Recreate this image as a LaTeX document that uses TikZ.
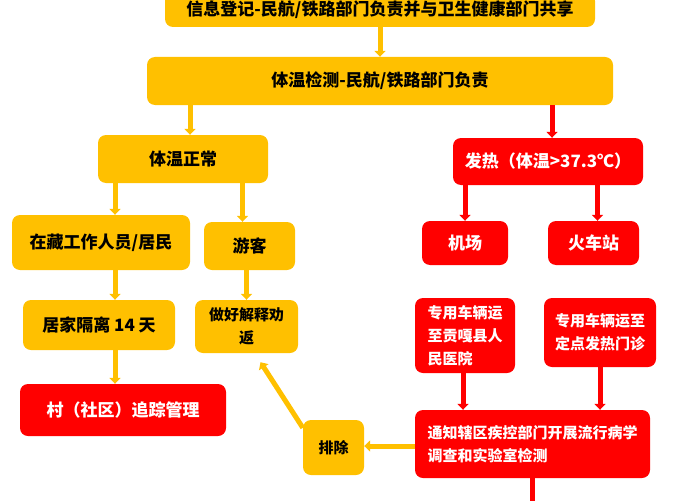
\documentclass[tikz,border=0pt]{standalone}
\usepackage{fontspec}
\setmainfont{Noto Sans CJK SC}
\usepackage{tikz}
\usetikzlibrary{shapes, arrows.meta}
\definecolor{gold}{HTML}{FFC000}
\definecolor{alarm}{HTML}{FF0000}

\begin{document}
\begin{tikzpicture}[x=1pt, y=-1pt,
	box/.style={rounded corners=8pt, inner sep=2pt, font=\fontsize{17}{23}\selectfont\bfseries},
	small/.style={font=\fontsize{15}{23}\selectfont\bfseries},
	goldbox/.style={box, fill=gold, text=black},
	redbox/.style={box, fill=alarm, text=white},
	goldarrow/.style={gold, line width=5pt, -{Triangle[width=11pt,length=6pt]}},
	redarrow/.style={alarm, line width=5pt, -{Triangle[width=11pt,length=6pt]}}]
	\useasboundingbox (0,0) rectangle (700,500);
	\node[goldbox, minimum width=430pt, minimum height=34pt] (reg) at (380,10) {信息登记-民航/铁路部门负责并与卫生健康部门共享};
	\node[goldbox, minimum width=466pt, minimum height=48pt] (detect) at (380,81) {体温检测-民航/铁路部门负责};
	\node[goldbox, minimum width=170pt, minimum height=48pt] (normal) at (183,159) {体温正常};
	\node[redbox, minimum width=190pt, minimum height=47pt] (fever) at (548,161.5) {发热（体温>37.3℃）};
	\node[goldbox, minimum width=178pt, minimum height=55pt] (local) at (101,242.5) {在藏工作人员/居民};
	\node[goldbox, minimum width=91pt, minimum height=48pt] (tourist) at (249.5,246) {游客};
	\node[redbox, minimum width=86pt, minimum height=44pt] (airport) at (465,243) {机场};
	\node[redbox, minimum width=91pt, minimum height=44pt] (train) at (593.5,243) {火车站};
	\node[goldbox, minimum width=152pt, minimum height=50pt] (quarantine) at (99,325) {居家隔离 14 天};
	\node[goldbox, small, minimum width=103pt, minimum height=53pt, align=center] (persuade) at (246.5,326.5) {做好解释劝\\返};
	\node[redbox, small, minimum width=100pt, minimum height=75pt, align=left] (hospital) at (465,335.5) {专用车辆运\\至贡嘎县人\\民医院};
	\node[redbox, small, minimum width=112pt, minimum height=69pt, align=left] (clinic) at (600,332.5) {专用车辆运至\\定点发热门诊};
	\node[redbox, minimum width=206pt, minimum height=52pt] (track) at (123,410) {村（社区）追踪管理};
	\node[goldbox, small, minimum width=61pt, minimum height=55pt] (exclude) at (333.5,447.5) {排除};
	\node[redbox, small, minimum width=235pt, minimum height=68pt, align=left] (notify) at (532.5,444) {通知辖区疾控部门开展流行病学\\调查和实验室检测};
	\coordinate (onward) at ([yshift=-40pt]notify.south);
	\draw[goldarrow] (reg.south) -- (detect.north);
	\draw[goldarrow] ([xshift=7pt]normal.north |- detect.south) -- ([xshift=7pt]normal.north);
	\draw[redarrow] ([xshift=4pt]fever.north |- detect.south) -- ([xshift=4pt]fever.north);
	\draw[goldarrow] ([xshift=14pt]local.north |- normal.south) -- ([xshift=14pt]local.north);
	\draw[goldarrow] ([xshift=-7pt]tourist.north |- normal.south) -- ([xshift=-7pt]tourist.north);
	\draw[goldarrow] ([xshift=16pt]quarantine.north |- local.south) -- ([xshift=16pt]quarantine.north);
	\draw[goldarrow] (persuade.north |- tourist.south) -- (persuade.north);
	\draw[goldarrow] ([xshift=16pt]quarantine.south) -- ([xshift=16pt]quarantine.south |- track.north);
	\draw[redarrow] (airport.north |- fever.south) -- (airport.north);
	\draw[redarrow] ([xshift=4pt]train.north |- fever.south) -- ([xshift=4pt]train.north);
	\draw[redarrow] ([xshift=-2pt]hospital.south) -- ([xshift=-2pt]hospital.south |- notify.north);
	\draw[redarrow] (clinic.south) -- (clinic.south |- notify.north);
	\draw[goldarrow] ([yshift=-2pt]notify.west) -- ([yshift=-2pt]notify.west -| exclude.east);
	\draw[goldarrow] ([yshift=-8pt]exclude.north west) -- ([xshift=14pt,yshift=-9pt]persuade.south);
	\draw[redarrow] (notify.south) -- (onward);
\end{tikzpicture}
\end{document}
